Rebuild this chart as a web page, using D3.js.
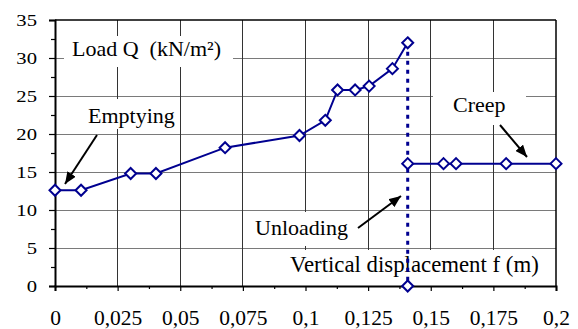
<!DOCTYPE html>
<html>
<head>
<meta charset="utf-8">
<script src="https://cdn.jsdelivr.net/npm/d3@7"></script>
<style>
  html, body { margin: 0; padding: 0; background: #fff; }
  svg { display: block; }
  text { font-family: "Liberation Serif", "Times New Roman", serif; fill: #000; }
</style>
</head>
<body>
<svg id="chart" width="578" height="329"></svg>
<script>
// ---- data ----
const xTicks = [0, 0.025, 0.05, 0.075, 0.1, 0.125, 0.15, 0.175, 0.2];
const xTickLabels = ["0", "0,025", "0,05", "0,075", "0,1", "0,125", "0,15", "0,175", "0,2"];
const xMinorTicks = [0.0125, 0.0375, 0.0625, 0.0875, 0.1125, 0.1375, 0.1625, 0.1875];
const yTicks = [0, 5, 10, 15, 20, 25, 30, 35];
const yMinorTicks = [2.5, 7.5, 12.5, 17.5, 22.5, 27.5, 32.5];

const loadX = [0, 0.0104, 0.0302, 0.0403, 0.0679, 0.0976, 0.1079, 0.1128, 0.1198, 0.1254, 0.1347, 0.1408];
const loadY = [12.6, 12.6, 14.8, 14.8, 18.2, 19.8, 21.8, 25.8, 25.8, 26.3, 28.6, 32.0];

const creepX = [0.1408, 0.1551, 0.1601, 0.1801, 0.2];
const creepY = [16.1, 16.1, 16.1, 16.1, 16.1];

const unloadX = [0.1408, 0.1408];
const unloadY = [32.0, 0];

const zeroX = [0.1408];
const zeroY = [0];

// ---- layout ----
const svg = d3.select("#chart");
const mLeft = 55, mRight = 556, mTop = 20, mBottom = 286;
const x = d3.scaleLinear().domain([0, 0.2]).range([mLeft, mRight]);
const y = d3.scaleLinear().domain([0, 35]).range([mBottom, mTop]);
const navy = "#000090";

// gridlines
svg.append("g").selectAll("line").data(yTicks.filter(d => d > 0 && d < 35)).join("line")
  .attr("x1", mLeft).attr("x2", mRight).attr("y1", d => y(d)).attr("y2", d => y(d))
  .attr("stroke", "#7a7a7a").attr("stroke-width", 1).attr("shape-rendering", "crispEdges");
svg.append("g").selectAll("line").data(xTicks.filter(d => d > 0 && d < 0.2)).join("line")
  .attr("x1", d => x(d)).attr("x2", d => x(d)).attr("y1", mTop).attr("y2", mBottom)
  .attr("stroke", "#333").attr("stroke-width", 1).attr("shape-rendering", "crispEdges");

// white label boxes
const boxes = [
  [64, 36, 169, 31],   // Load Q
  [80, 99, 100, 30],   // Emptying
  [433, 92, 93, 33],   // Creep
  [250, 212, 102, 34], // Unloading
  [285, 250, 271, 36]  // Vertical displacement
];
svg.append("g").selectAll("rect").data(boxes).join("rect")
  .attr("x", d => d[0]).attr("y", d => d[1]).attr("width", d => d[2]).attr("height", d => d[3])
  .attr("fill", "#fff");

// border top/right
svg.append("line").attr("x1", mLeft).attr("x2", mRight).attr("y1", mTop).attr("y2", mTop)
  .attr("stroke", "#000").attr("stroke-width", 1.5);
svg.append("line").attr("x1", mRight).attr("x2", mRight).attr("y1", mTop).attr("y2", mBottom)
  .attr("stroke", "#000").attr("stroke-width", 1.5);

// axes
const yAxis = svg.append("g").attr("transform", `translate(${mLeft},0)`)
  .call(d3.axisLeft(y).tickValues(yTicks).tickSize(6).tickPadding(0).tickFormat(d3.format("d")));
yAxis.selectAll("text").attr("x", 0).attr("dy", "0.34em")
  .attr("transform", "translate(-18,0) scale(1.18,1)")
  .style("font-size", "17.5px").style("font-family", "Liberation Serif");
svg.append("g").attr("transform", `translate(${mLeft},0)`)
  .call(d3.axisLeft(y).tickValues(yMinorTicks).tickSize(4).tickFormat(""))
  .call(g => g.select(".domain").remove());

const xAxis = svg.append("g").attr("transform", `translate(0,${mBottom})`)
  .call(d3.axisBottom(x).tickValues(xTicks).tickSize(5).tickPadding(19)
    .tickFormat((d, i) => xTickLabels[i]));
xAxis.selectAll("text").style("font-size", "21.5px").style("font-family", "Liberation Serif");
svg.append("g").attr("transform", `translate(0,${mBottom})`)
  .call(d3.axisBottom(x).tickValues(xMinorTicks).tickSize(3).tickFormat(""))
  .call(g => g.select(".domain").remove());

svg.selectAll(".domain").attr("stroke", "#000").attr("stroke-width", 2);
svg.selectAll(".tick line").attr("stroke", "#000").attr("stroke-width", 1.2);

// arrows
const defs = svg.append("defs");
defs.append("marker").attr("id", "arrow").attr("viewBox", "0 0 12 10")
  .attr("refX", 12).attr("refY", 5).attr("markerWidth", 12).attr("markerHeight", 10)
  .attr("markerUnits", "userSpaceOnUse").attr("orient", "auto")
  .append("path").attr("d", "M0,0 L12,5 L0,10 Z").attr("fill", "#000");
const arrows = [
  [97, 135, 65, 184],
  [500, 125, 527, 157],
  [358, 228, 401, 196]
];
svg.append("g").selectAll("line").data(arrows).join("line")
  .attr("x1", d => d[0]).attr("y1", d => d[1]).attr("x2", d => d[2]).attr("y2", d => d[3])
  .attr("stroke", "#000").attr("stroke-width", 2).attr("marker-end", "url(#arrow)");

// labels
const labels = svg.append("g").style("font-size", "22px");
labels.append("text").attr("x", 72).attr("y", 56).style("white-space", "pre").style("font-size", "22px")
  .text("Load Q  (kN/m²)");
labels.append("text").attr("x", 88).attr("y", 123).text("Emptying");
labels.append("text").attr("x", 453).attr("y", 112).text("Creep");
labels.append("text").attr("x", 255).attr("y", 235).text("Unloading");
labels.append("text").attr("x", 290).attr("y", 272).style("font-size", "22.8px").text("Vertical displacement f (m)");

// unloading dotted line
const line = d3.line().x(d => x(d[0])).y(d => y(d[1]));
svg.append("path").datum(d3.zip(unloadX, unloadY))
  .attr("d", line).attr("fill", "none").attr("stroke", navy)
  .attr("stroke-width", 3).attr("stroke-dasharray", "4,5");

// series lines
svg.append("path").datum(d3.zip(loadX, loadY))
  .attr("d", line).attr("fill", "none").attr("stroke", navy).attr("stroke-width", 2);
svg.append("path").datum(d3.zip(creepX, creepY))
  .attr("d", line).attr("fill", "none").attr("stroke", navy).attr("stroke-width", 2);

// markers
const pts = [].concat(d3.zip(loadX, loadY), d3.zip(creepX, creepY), d3.zip(zeroX, zeroY));
svg.append("g").selectAll("path").data(pts).join("path")
  .attr("d", "M0,-5.5 L5.5,0 L0,5.5 L-5.5,0 Z")
  .attr("transform", d => `translate(${x(d[0])},${y(d[1])})`)
  .attr("fill", "#fff").attr("stroke", navy).attr("stroke-width", 2);
</script>
</body>
</html>
